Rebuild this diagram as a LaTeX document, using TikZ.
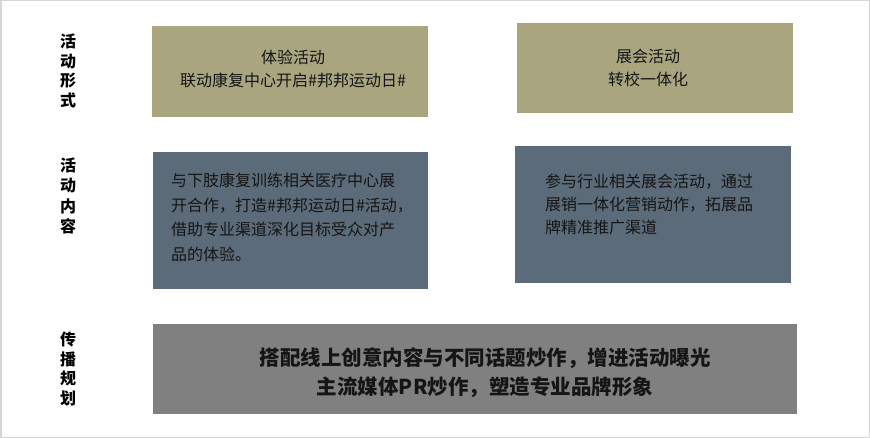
\documentclass[tikz,border=0pt]{standalone}
\usepackage{fontspec}
\setmainfont{Noto Sans CJK SC}
\definecolor{boxolive}{HTML}{A9A57E}
\definecolor{boxslate}{HTML}{5B6B79}
\definecolor{boxgray}{HTML}{808080}
\definecolor{framegray}{HTML}{D6D6D6}
\definecolor{inktext}{HTML}{151515}
\begin{document}
\begin{tikzpicture}[x=1pt,y=-1pt,
  panel/.style={draw=none, inner sep=0pt, outer sep=0pt},
  txt/.style={inner sep=0pt, text=inktext, font=\fontsize{16}{23}\selectfont},
  bodytxt/.style={inner sep=0pt, text=inktext, align=left, font=\fontsize{16}{24.5}\selectfont},
  lbl/.style={inner sep=0pt, align=center, text=black, font=\bfseries\fontsize{16}{19.5}\selectfont}]
\useasboundingbox (0,0) rectangle (870,438);
\draw[framegray, line width=1.5pt] (0.75,0.75) rectangle (869.25,437.25);
% side labels
\node[lbl] (l1) at (68,71) {活\\动\\形\\式};
\node[lbl, font=\bfseries\fontsize{16}{20.5}\selectfont] (l2) at (68,196) {活\\动\\内\\容};
\node[lbl] (l3) at (68,369) {传\\播\\规\\划};
% boxes
\node[panel, fill=boxolive, minimum width=276pt, minimum height=91pt] (b1) at (290,72) {};
\node[panel, fill=boxolive, minimum width=276pt, minimum height=90pt] (b2) at (655,68) {};
\node[panel, fill=boxslate, minimum width=275pt, minimum height=137pt] (b3) at (290.5,220.5) {};
\node[panel, fill=boxslate, minimum width=276pt, minimum height=137pt] (b4) at (653,214.5) {};
\node[panel, fill=boxgray, minimum width=644pt, minimum height=90pt] (b5) at (475,369) {};
% texts
\node[txt, align=center] (t1) at (293,69) {体验活动\\联动康复中心开启\#邦邦运动日\#};
\node[txt, align=center] (t2) at (648,68) {展会活动\\转校一体化};
\node[bodytxt, anchor=north west] (t3) at (171,173) {与下肢康复训练相关医疗中心展\\开合作，打造\#邦邦运动日\#活动，\\借助专业渠道深化目标受众对产\\品的体验。};
\node[bodytxt, anchor=north west, font=\fontsize{16}{23}\selectfont] (t4) at (545,174) {参与行业相关展会活动，通过\\展销一体化营销动作，拓展品\\牌精准推广渠道};
\node[inner sep=0pt, align=center, text=inktext, font=\bfseries\fontsize{20.5}{29}\selectfont] (t5) at (485,372.5) {搭配线上创意内容与不同话题炒作，增进活动曝光\\主流媒体PR炒作，塑造专业品牌形象};
\end{tikzpicture}
\end{document}
